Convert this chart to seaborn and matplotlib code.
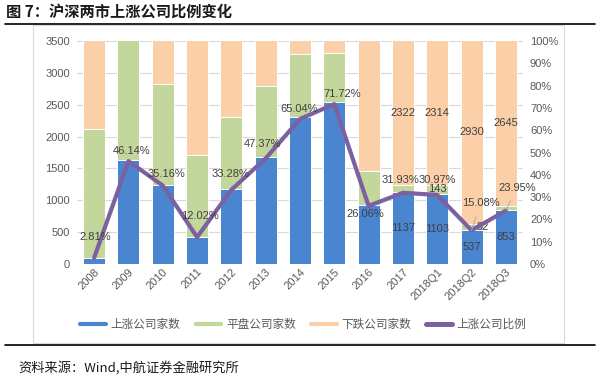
import numpy as np
import pandas as pd
import matplotlib
matplotlib.use("Agg")
import matplotlib.pyplot as plt
from matplotlib.lines import Line2D
import seaborn as sns

years = ['2008', '2009', '2010', '2011', '2012', '2013', '2014', '2015',
         '2016', '2017', '2018Q1', '2018Q2', '2018Q3']
up = [100, 1635, 1245, 425, 1170, 1679, 2303, 2539, 929, 1137, 1103, 537, 853]
flat = [2020, 1908, 1583, 1280, 1133, 1112, 992, 777, 524, 102, 143, 92, 64]
down = [1439, 0, 713, 1831, 1213, 753, 246, 224, 2112, 2322, 2314, 2930, 2645]
ratio = [2.81, 46.14, 35.16, 12.02, 33.28, 47.37, 65.04, 71.72, 26.06, 31.93, 30.97, 15.08, 23.95]

legend_names = ['上涨公司家数', '平盘公司家数', '下跌公司家数', '上涨公司比例']
title = '图 7：沪深两市上涨公司比例变化'
source = '资料来源：Wind,中航证券金融研究所'

# which bars carry count labels
count_label_idx = [9, 10, 11, 12]
flat_label_idx = [10, 11]
# ratio label offsets (pixels) relative to each point
ratio_offsets = [(1, 21), (3, 10), (4, 12), (3, 21), (-1, 16), (-3, 14), (-1, 10),
                 (8, 10), (-3, -8), (-2, 13), (0, 15), (9, 27), (11, 23)]
leader_idx = [11, 12]

c_up = '#4A86D0'
c_flat = '#C3D69B'
c_down = '#FBCFA8'
c_line = '#7D60A0'
c_text = '#404040'
c_tick = '#595959'

sns.set_theme(style='white')
plt.rcParams['font.family'] = ['Liberation Sans', 'Noto Sans CJK SC', 'DejaVu Sans']

fig = plt.figure(figsize=(5.97, 3.80), dpi=100)
ax = fig.add_axes([77 / 597, 1 - 264 / 380, 446 / 597, 223 / 380])

df = pd.DataFrame({'year': years, 'up': up, 'flat': flat, 'down': down, 'ratio': ratio})
df['upflat'] = df['up'] + df['flat']
df['total'] = df['upflat'] + df['down']

bw = 0.64
for col, colr in [('total', c_down), ('upflat', c_flat), ('up', c_up)]:
    sns.barplot(data=df, x='year', y=col, color=colr, saturation=1, width=bw,
                errorbar=None, edgecolor='white', linewidth=0.7, ax=ax)

n = len(years)
ax.set_ylim(0, 3500)
ax.set_yticks(np.arange(0, 3501, 500))
ax.set_xlim(-0.5, n - 0.5)
ax.yaxis.grid(True, color='#D9D9D9', linewidth=0.8)
ax.set_axisbelow(True)
for s in ax.spines.values():
    s.set_visible(False)
ax.set_xlabel('')
ax.set_ylabel('')
ax.tick_params(axis='y', length=0, pad=5, labelsize=8, labelcolor=c_tick)
ax.tick_params(axis='x', length=0, pad=2, labelsize=8, labelcolor=c_tick)
ax.set_xticks(range(n))
ax.set_xticklabels(years, rotation=45, ha='right', va='top', rotation_mode='anchor')

# count labels
ymax = 3500
for i in count_label_idx:
    u, f, d = up[i], flat[i], down[i]
    ax.text(i, u / 2, str(u), ha='center', va='center', fontsize=8, color=c_text)
    top = min(u + f + d, ymax)
    ax.text(i, (u + f + top) / 2, str(d), ha='center', va='center', fontsize=8, color=c_text)
for i in flat_label_idx:
    u, f = up[i], flat[i]
    dx = 0.32 if f < 100 else 0
    ax.text(i + dx, u + f / 2, str(f), ha='center', va='center', fontsize=8, color=c_text)

ax2 = ax.twinx()
sns.lineplot(x=np.arange(n), y=df['ratio'].values, color=c_line, linewidth=3, ax=ax2)
ax2.set_ylim(0, 100)
ax2.set_xlim(-0.5, n - 0.5)
ax2.set_yticks(np.arange(0, 101, 10))
ax2.set_yticklabels([f'{v}%' for v in range(0, 101, 10)])
ax2.tick_params(axis='y', length=0, pad=5, labelsize=8, labelcolor=c_tick)
for s in ax2.spines.values():
    s.set_visible(False)
ax2.set_xlabel('')
ax2.set_ylabel('')
ax2.grid(False)

for i, r in enumerate(ratio):
    dx, dy = ratio_offsets[i]
    kw = {}
    if i in leader_idx:
        kw['arrowprops'] = dict(arrowstyle='-', color='#A6A6A6', lw=0.6,
                                shrinkA=4, shrinkB=0)
    ax2.annotate(f'{r:.2f}%', xy=(i, r), xytext=(dx, dy), textcoords='offset pixels',
                 ha='center', va='center', fontsize=8, color=c_text, **kw)

# legend
handles = [Line2D([], [], color=c_up, lw=3),
           Line2D([], [], color=c_flat, lw=3),
           Line2D([], [], color=c_down, lw=3),
           Line2D([], [], color=c_line, lw=3.6, solid_capstyle='round')]
leg = fig.legend(handles, legend_names, loc='center', bbox_to_anchor=(0.508, 1 - 325 / 380),
                 ncol=4, frameon=False, fontsize=8.4, handlelength=2.2, handletextpad=0.4,
                 columnspacing=1.3)
for t in leg.get_texts():
    t.set_color(c_tick)

# frame and rules
fig.add_artist(plt.Rectangle((33 / 597, 1 - 343 / 380), (564 - 33) / 597, (343 - 25) / 380,
                             transform=fig.transFigure, fill=False, edgecolor='#D9D9D9', lw=0.8))
fig.add_artist(Line2D([5 / 597, 595 / 597], [1 - 23.5 / 380] * 2, transform=fig.transFigure,
                      color='black', lw=1.2))
fig.add_artist(Line2D([5 / 597, 595 / 597], [1 - 344.5 / 380] * 2, transform=fig.transFigure,
                      color='black', lw=1.2))

fig.text(6 / 597, 1 - 12 / 380, title, ha='left', va='center', fontsize=11,
         fontweight='bold', color='#1A1A1A', family=['Noto Sans CJK SC', 'DejaVu Sans'])
fig.text(18 / 597, 1 - 368 / 380, source, ha='left', va='center', fontsize=9.5,
         color='#1A1A1A', family=['Noto Sans CJK SC', 'DejaVu Sans'])

fig.savefig('out.png', dpi=100)
